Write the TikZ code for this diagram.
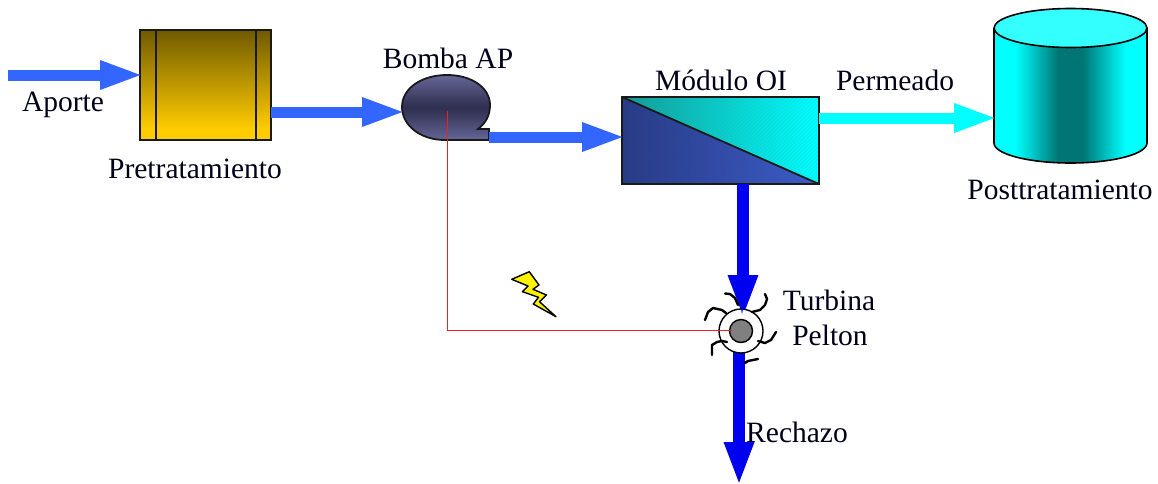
\documentclass[tikz,border=0pt]{standalone}
\usepackage{fontspec}
\setmainfont{Liberation Serif}
\usetikzlibrary{arrows.meta,calc}
\definecolor{flowblue}{HTML}{3366FF}
\definecolor{rejectblue}{HTML}{0000F0}
\definecolor{permcyan}{HTML}{00FFFF}
\definecolor{darkteal}{HTML}{007575}
\definecolor{linkred}{HTML}{F02020}
\definecolor{pretop}{HTML}{705A00}
\definecolor{prebot}{HTML}{FFCC00}
\definecolor{pumpout}{HTML}{666699}
\definecolor{pumpmid}{HTML}{2E2E4E}
\definecolor{upleft}{HTML}{119C98}
\definecolor{lowleft}{HTML}{263A86}
\definecolor{lowright}{HTML}{3A5CCB}
\pgfdeclarehorizontalshading{cylshade}{100bp}{color(0bp)=(permcyan); color(32bp)=(permcyan); color(46bp)=(darkteal); color(54bp)=(darkteal); color(68bp)=(permcyan); color(100bp)=(permcyan)}
\pgfdeclareverticalshading{preshade}{100bp}{color(0bp)=(prebot); color(30bp)=(prebot); color(75bp)=(pretop); color(100bp)=(pretop)}
\tikzset{
  lbl/.style={inner sep=0pt,font=\fontsize{29.5}{32}\selectfont,text=black!90!blue},
  flow/.style={line width=11pt,color=flowblue,shorten >=-4pt,-{Triangle[length=44pt,width=26pt]}},
  permflow/.style={flow,color=permcyan},
  rejflow/.style={line width=12pt,color=rejectblue,shorten >=-4pt,-{Triangle[length=44pt,width=27pt]}},
  edge/.style={draw=black!90,line width=1.8pt},
  blade/.style={draw=black,line width=2.4pt,line cap=round,line join=round},
  link/.style={draw=linkred,line width=1pt},
}
\begin{document}
\begin{tikzpicture}[x=1pt,y=-1pt]
\useasboundingbox (0,0) rectangle (1158,483);
\coordinate (aporteStart) at (8,75);
\coordinate (rechazoEnd) at (739,482);
\coordinate (turbinaTop) at (743,315);
% pretreatment
\node[edge,rectangle,outer sep=0pt,minimum width=131pt,minimum height=110pt,inner sep=0pt,shading=preshade,anchor=north west] (pre) at (140,30) {};
\draw[edge] (156,30) -- (156,140) (256,30) -- (256,140);
% pump
\coordinate (pumpIn) at (402,112);
\coordinate (pumpOut) at (489,137);
\path[edge,top color=pumpout,bottom color=pumpout,middle color=pumpmid]
  (489,140) -- (445,140) .. controls (420,140) and (402,125) .. (402,107)
  .. controls (402,88) and (422,75) .. (447,75) .. controls (472,75) and (490,88) .. (490,105)
  .. controls (490,115) and (486,123) .. (478,129) -- (489,129) -- cycle;
% module
\node[rectangle,outer sep=0pt,minimum width=197pt,minimum height=87pt,inner sep=0pt,anchor=north west] (mod) at (622,97) {};
\path[left color=upleft,right color=permcyan] (mod.north west) -- (mod.north east) -- (mod.south east) -- cycle;
\path[left color=lowleft,right color=lowright] (mod.north west) -- (mod.south west) -- (mod.south east) -- cycle;
\begin{scope}
\clip (mod.north west) rectangle (mod.south east);
\foreach \k in {0,4,...,290} \draw[black!60,opacity=.12,line width=.6pt] (622+\k-90,184) -- (622+\k,97);
\end{scope}
\draw[edge] (mod.north west) rectangle (mod.south east);
\draw[edge] (mod.north west) -- (mod.south east);
% tank
\coordinate (tankIn) at (994,118);
\path[shading=cylshade] (994,28) -- (994,143) arc[start angle=180,end angle=360,x radius=76.5pt,y radius=20pt] -- (1147,28) -- cycle;
\draw[edge,black,line width=1.6pt] (994,28) -- (994,143) arc[start angle=180,end angle=360,x radius=76.5pt,y radius=20pt] -- (1147,28);
\draw[edge,black,line width=1.6pt,fill=permcyan!80!white] (1070.5,28) ellipse[x radius=76.5pt,y radius=19.5pt];
% flows
\draw[flow] (aporteStart) -- ([yshift=10pt]pre.west);
\draw[flow] ([yshift=-27pt]pre.east) -- (pumpIn);
\draw[flow] (pumpOut) -- ([yshift=3.5pt]mod.west);
\draw[permflow] ([yshift=22.5pt]mod.east) -- (tankIn);
\draw[rejflow] ([xshift=22.5pt]mod.south) -- (turbinaTop);
% turbine
\draw[rejflow] (739,350) -- (rechazoEnd);
\node[circle,draw=black,line width=1.4pt,fill=white,minimum size=44pt,inner sep=0pt] (turb) at (741,331) {};
\node[circle,draw=black,line width=1.4pt,fill=black!50,minimum size=23pt,inner sep=0pt] (hub) at (741,331) {};
\draw[rejectblue,line width=1.5pt,-{Triangle[length=12pt,width=3pt]}] (742,305) -- (742,316);
\draw[blade] (725,293.5) -- (730,294) -- (735,298) -- (738,305);
\draw[blade] (765,294) -- (767,299) -- (765,305) -- (760,310) -- (752,312);
\draw[blade] (705,320) -- (708,312) -- (713,308) -- (722,310) -- (726,313);
\draw[blade] (712,355) -- (712,345) -- (717,342) -- (722,341) -- (727,342);
\draw[blade] (776,332) -- (771,340) -- (765,343) -- (758,341);
\draw[blade] (758,359) -- (748,361) -- (745,363);
% control link
\coordinate (pumpTap) at (447,111);
\coordinate (linkCorner) at (447,330);
\draw[link] (pumpTap) -- (linkCorner) -- ([xshift=3pt,yshift=1pt]hub.west);
% bolt
\path[draw=black,line width=1.4pt,fill=yellow,line join=round] (511.7,279.3) -- (529.3,271.7) -- (539,285) -- (533,289.3) -- (546.5,295) -- (539.5,301.7) -- (556,316.7) -- (533.3,304) -- (538.5,297.3) -- (522.5,291.7) -- (528,286) -- cycle;
% labels
\node[lbl] (tAporte) at (63,105) {Aporte};
\node[lbl] (tPre) at (195,169) {Pretratamiento};
\node[lbl] (tBomba) at (448,58) {Bomba AP};
\node[lbl] (tMod) at (721,80) {Módulo OI};
\node[lbl] (tPerm) at (895,80) {Permeado};
\node[lbl] (tPost) at (1060,190) {Posttratamiento};
\node[lbl] (tTurb) at (829,300) {Turbina};
\node[lbl] (tPel) at (830,335) {Pelton};
\node[lbl] (tRech) at (797,432) {Rechazo};
\end{tikzpicture}
\end{document}
